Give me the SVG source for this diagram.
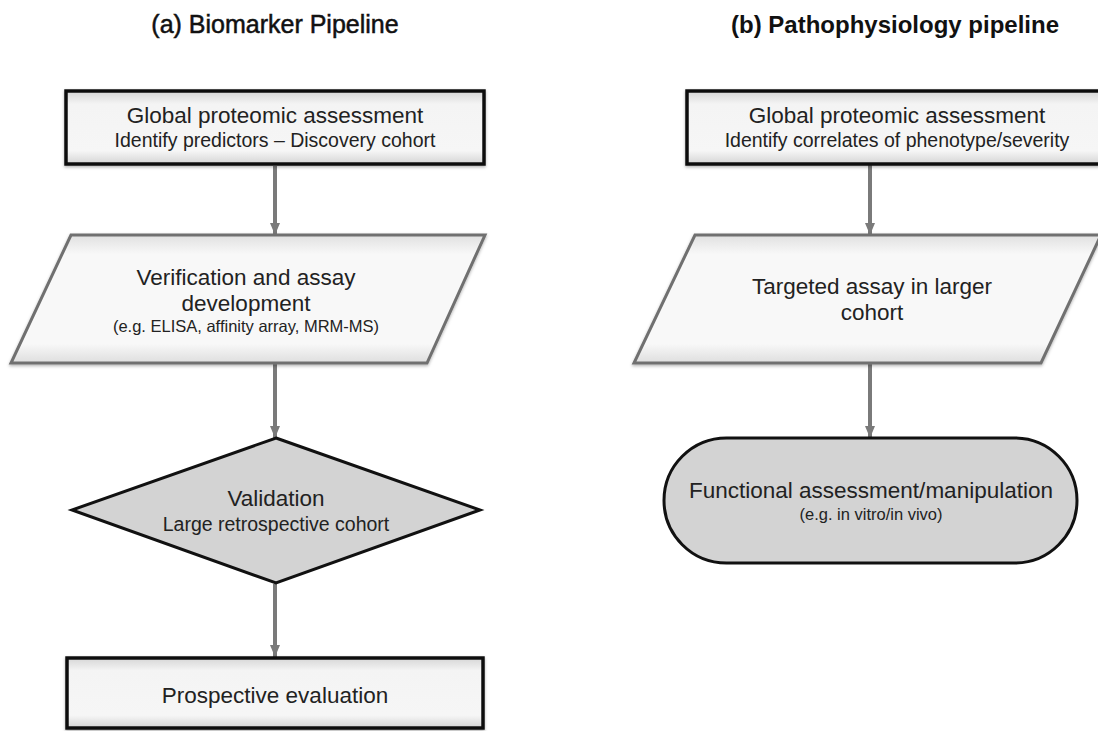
<svg xmlns="http://www.w3.org/2000/svg" width="1098" height="731" viewBox="0 0 1098 731">
<style>
text{font-family:"Liberation Sans",Arial,sans-serif;text-anchor:middle;fill:#222}
.title{fill:#111;font-size:25px}
.ta{stroke:#111;stroke-width:0.5}
.tb{font-weight:bold;font-size:24px}
.m{font-size:22.5px}
.s{font-size:19.5px}
.xs{font-size:16.5px}
.box{fill:url(#boxg);stroke:#111;stroke-width:3.5}
.para{fill:url(#parag);stroke:#707070;stroke-width:3}
.dark{fill:#d3d3d3;stroke:#111;stroke-width:3}
.conn{stroke:#7a7a7a;stroke-width:4;fill:none}
</style>
<defs>
<linearGradient id="boxg" x1="0" y1="0" x2="0" y2="1">
<stop offset="0" stop-color="#d6d6d6"/>
<stop offset="0.18" stop-color="#f4f4f4"/>
<stop offset="0.82" stop-color="#f6f6f6"/>
<stop offset="1" stop-color="#d4d4d4"/>
</linearGradient>
<linearGradient id="parag" x1="0" y1="0" x2="0" y2="1">
<stop offset="0" stop-color="#e0e0e0"/>
<stop offset="0.15" stop-color="#f8f8f8"/>
<stop offset="0.85" stop-color="#f8f8f8"/>
<stop offset="1" stop-color="#dedede"/>
</linearGradient>
<filter id="sh" x="-10%" y="-10%" width="120%" height="130%">
<feDropShadow dx="0" dy="1.5" stdDeviation="1.8" flood-color="#000" flood-opacity="0.3"/>
</filter>
<marker id="ah" viewBox="0 0 12 10" refX="12" refY="5" markerWidth="12" markerHeight="10" markerUnits="userSpaceOnUse" orient="auto">
<path d="M0,0 L12,5 L0,10 Z" fill="#7a7a7a"/>
</marker>
</defs>

<g id="titles">
<text class="title ta" x="275" y="33">(a) Biomarker Pipeline</text>
<text class="title tb" x="895" y="33">(b) Pathophysiology pipeline</text>
</g>

<g id="connectors">
<line class="conn" x1="275" y1="166" x2="275" y2="235" marker-end="url(#ah)"/>
<line class="conn" x1="275" y1="364" x2="275" y2="438" marker-end="url(#ah)"/>
<line class="conn" x1="275" y1="584" x2="275" y2="657" marker-end="url(#ah)"/>
<line class="conn" x1="870" y1="165" x2="870" y2="235" marker-end="url(#ah)"/>
<line class="conn" x1="870" y1="364" x2="870" y2="438" marker-end="url(#ah)"/>
</g>

<g id="a-global">
<rect class="box" filter="url(#sh)" x="66" y="91" width="418" height="73"/>
<text class="m" x="275" y="123">Global proteomic assessment</text>
<text class="s" x="275" y="147">Identify predictors – Discovery cohort</text>
</g>

<g id="a-verification">
<polygon class="para" filter="url(#sh)" points="71,235 485,235 427,363 11,363"/>
<text class="m" x="246" y="285">Verification and assay</text>
<text class="m" x="246" y="311">development</text>
<text class="xs" x="246" y="332">(e.g. ELISA, affinity array, MRM-MS)</text>
</g>

<g id="a-validation">
<polygon class="dark" points="276,438 480,510 276,583 72,510"/>
<text class="m" x="276" y="506">Validation</text>
<text class="s" x="276" y="531">Large retrospective cohort</text>
</g>

<g id="a-prospective">
<rect class="box" filter="url(#sh)" x="67" y="658" width="416" height="70"/>
<text class="m" x="275" y="703">Prospective evaluation</text>
</g>

<g id="b-global">
<rect class="box" filter="url(#sh)" x="687" y="91" width="420" height="73"/>
<text class="m" x="897" y="123">Global proteomic assessment</text>
<text class="s" x="897" y="147">Identify correlates of phenotype/severity</text>
</g>

<g id="b-targeted">
<polygon class="para" filter="url(#sh)" points="695,235 1101,235 1041,363 634,363"/>
<text class="m" x="872" y="294">Targeted assay in larger</text>
<text class="m" x="872" y="320">cohort</text>
</g>

<g id="b-functional">
<rect class="dark" x="664" y="438" width="413" height="125" rx="62.5" ry="62.5"/>
<text class="m" x="871" y="498">Functional assessment/manipulation</text>
<text class="xs" x="871" y="520">(e.g. in vitro/in vivo)</text>
</g>
</svg>
